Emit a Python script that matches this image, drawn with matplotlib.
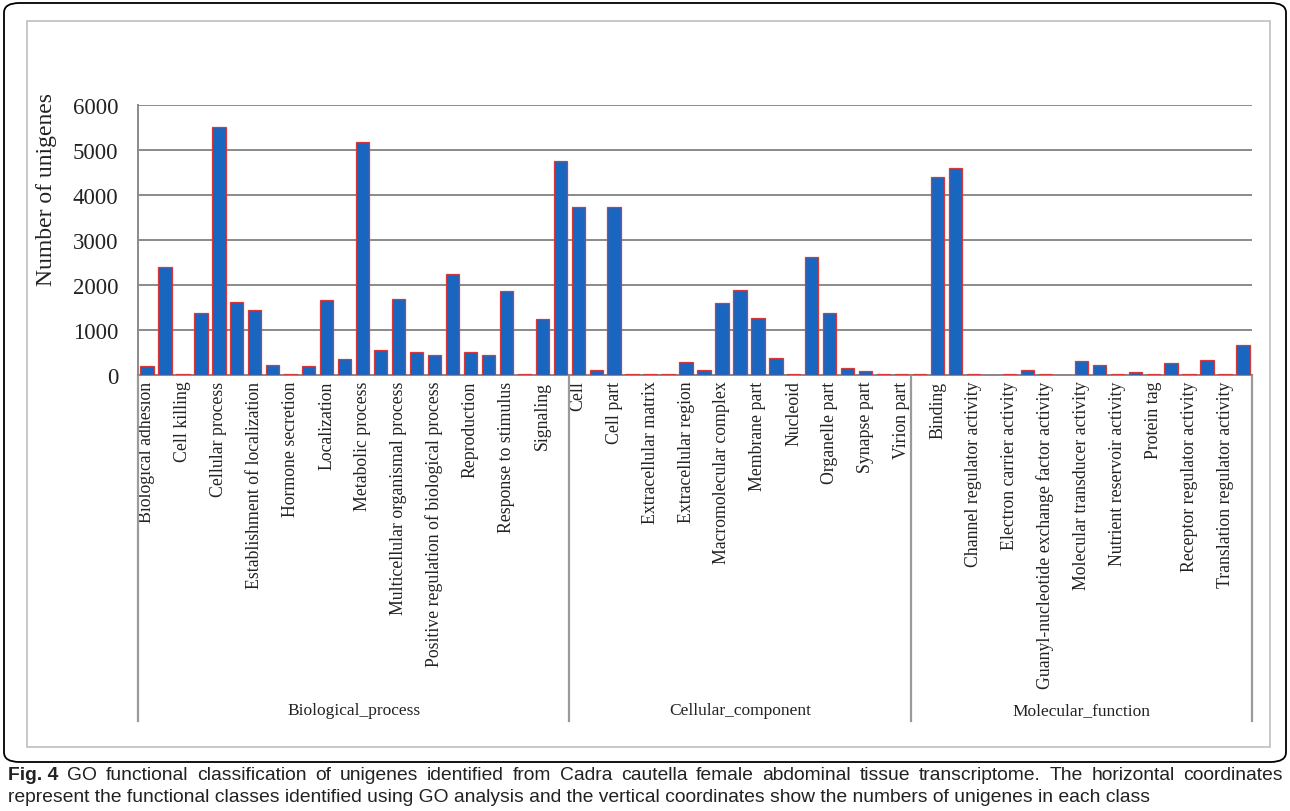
import matplotlib
matplotlib.use("Agg")
import matplotlib.pyplot as plt
from matplotlib.patches import Rectangle, FancyBboxPatch
import matplotlib.transforms as mtransforms

# ---------------- data ----------------
bp_terms = ["Biological adhesion", "Biological regulation", "Cell killing",
            "Cellular component organization or biogenesis", "Cellular process",
            "Developmental process", "Establishment of localization", "Growth",
            "Hormone secretion", "Immune system process", "Localization", "Locomotion",
            "Metabolic process", "Multi-organism process", "Multicellular organismal process",
            "Negative regulation of biological process", "Positive regulation of biological process",
            "Regulation of biological process", "Reproduction", "Reproductive process",
            "Response to stimulus", "Rhythmic process", "Signaling", "Single-organism process"]
bp_values = [193, 2407, 25, 1370, 5519, 1630, 1444, 222, 20, 193, 1659, 348,
             5170, 563, 1689, 504, 437, 2244, 504, 444, 1859, 25, 1244, 4748]

cc_terms = ["Cell", "Cell junction", "Cell part", "Collagen trimer", "Extracellular matrix",
            "Extracellular matrix component", "Extracellular region", "Extracellular region part",
            "Macromolecular complex", "Membrane", "Membrane part", "Membrane-enclosed lumen",
            "Nucleoid", "Organelle", "Organelle part", "Synapse", "Synapse part", "Virion",
            "Virion part"]
cc_values = [3726, 118, 3726, 15, 20, 15, 281, 118, 1600, 1889, 1274, 385,
             20, 2630, 1370, 163, 81, 15, 15]

mf_terms = ["Antioxidant activity", "Binding", "Catalytic activity", "Channel regulator activity",
            "Chemoattractant activity", "Electron carrier activity", "Enzyme regulator activity",
            "Guanyl-nucleotide exchange factor activity", "Metallochaperone activity",
            "Molecular transducer activity", "Nucleic acid binding transcription factor activity",
            "Nutrient reservoir activity", "Protein binding transcription factor activity",
            "Protein tag", "Receptor activity", "Receptor regulator activity",
            "Structural molecule activity", "Translation regulator activity", "Transporter activity"]
mf_values = [20, 4393, 4593, 15, 10, 15, 118, 15, 10, 311, 222, 15, 67, 15,
             259, 15, 341, 15, 667]

groups = ["Biological_process", "Cellular_component", "Molecular_function"]
y_ticks = [0, 1000, 2000, 3000, 4000, 5000, 6000]

caption_bold = "Fig. 4"
caption_line1 = ("GO functional classification of unigenes identified from Cadra cautella female "
                 "abdominal tissue transcriptome. The horizontal coordinates")
caption_line2 = ("represent the functional classes identified using GO analysis and the vertical "
                 "coordinates show the numbers of unigenes in each class")

# ---------------- figure ----------------
W, H = 1290, 812
fig = plt.figure(figsize=(W / 100, H / 100), dpi=100)
fig.patch.set_facecolor("white")

def fx(px):
    return px / W

def fy(py):
    return 1 - py / H

# outer black box
outer = FancyBboxPatch((fx(4), fy(763)), fx(1282), fy(4) - fy(763),
                       boxstyle="round,pad=0,rounding_size=0.012",
                       transform=fig.transFigure, fill=False, ec="black", lw=1.3)
fig.patches.append(outer)

# chart-area gray frame
frame = Rectangle((fx(27), fy(748)), fx(1270 - 27), fy(22) - fy(748),
                  transform=fig.transFigure, fill=False, ec="#c4c4c4", lw=1.3)
fig.patches.append(frame)

ax = fig.add_axes([fx(138), fy(376), fx(1252 - 138), fy(106) - fy(376)])

terms = bp_terms + cc_terms + mf_terms
values = bp_values + cc_values + mf_values
xs = list(range(len(terms)))

ax.bar(xs, values, width=0.74, color="#1866c0", edgecolor="#d8383a", linewidth=0.9, zorder=3)

ax.set_xlim(-0.5, len(terms) - 0.5)
ax.set_ylim(0, 6000)
ax.set_yticks(y_ticks)
ax.set_yticklabels([str(v) for v in y_ticks], fontfamily="Liberation Serif", fontsize=16.5,
                   color="#222222")
ax.yaxis.grid(True, color="#8a8a8a", lw=1.4, zorder=0)
ax.tick_params(axis="y", length=0, pad=14)
ax.tick_params(axis="x", length=0, pad=4)

for s in ["top", "right"]:
    ax.spines[s].set_visible(False)
ax.spines["left"].set_color("#8a8a8a")
ax.spines["left"].set_linewidth(1.4)
ax.spines["bottom"].set_color("#8a8a8a")
ax.spines["bottom"].set_linewidth(1.4)

ax.set_xticks(xs[::2])
ax.set_xticklabels(terms[::2], rotation=90, va="top", ha="center",
                   fontfamily="Liberation Serif", fontsize=12.8, color="#222222")

ax.set_ylabel("Number of unigenes", fontfamily="Liberation Serif", fontsize=17, color="#222222")
ax.yaxis.set_label_coords((57 - 138) / (1252 - 138), (376 - 190) / (376 - 106))

# group separators and labels
trans = mtransforms.blended_transform_factory(ax.transData, ax.transAxes)
n_bp, n_cc, n_mf = len(bp_terms), len(cc_terms), len(mf_terms)
bounds = [-0.5, n_bp - 0.5, n_bp + n_cc - 0.5, n_bp + n_cc + n_mf - 0.5]
y_bottom = (376 - 722) / (376 - 106)
for b in bounds:
    ax.plot([b, b], [0, y_bottom], transform=trans, color="#9a9a9a", lw=1.6, clip_on=False)
y_grp = (376 - 711) / (376 - 106)
for i, g in enumerate(groups):
    cx = (bounds[i] + bounds[i + 1]) / 2
    ax.text(cx, y_grp, g, transform=trans, ha="center", va="center",
            fontfamily="Liberation Serif", fontsize=12.5, color="#222222")

# caption (first line justified to the right edge)
cap_fs = 13.9
renderer = fig.canvas.get_renderer()
words = [(caption_bold, "bold")] + [(w, "normal") for w in caption_line1.split(" ")]
widths = []
for w, fw in words:
    tt = fig.text(0, 0, w, fontfamily="Liberation Sans", fontweight=fw, fontsize=cap_fs)
    widths.append(tt.get_window_extent(renderer).width)
    tt.remove()
left_px, right_px = 8, 1283
gap = (right_px - left_px - sum(widths)) / (len(words) - 1)
xpos = left_px
for (w, fw), wd in zip(words, widths):
    fig.text(fx(xpos), fy(776), w, fontfamily="Liberation Sans", fontweight=fw,
             fontsize=cap_fs, color="#222222", va="center", ha="left")
    xpos += wd + gap
fig.text(fx(8), fy(798), caption_line2, fontfamily="Liberation Sans", fontsize=cap_fs,
         color="#222222", va="center", ha="left")

fig.savefig("out.png", dpi=100)
